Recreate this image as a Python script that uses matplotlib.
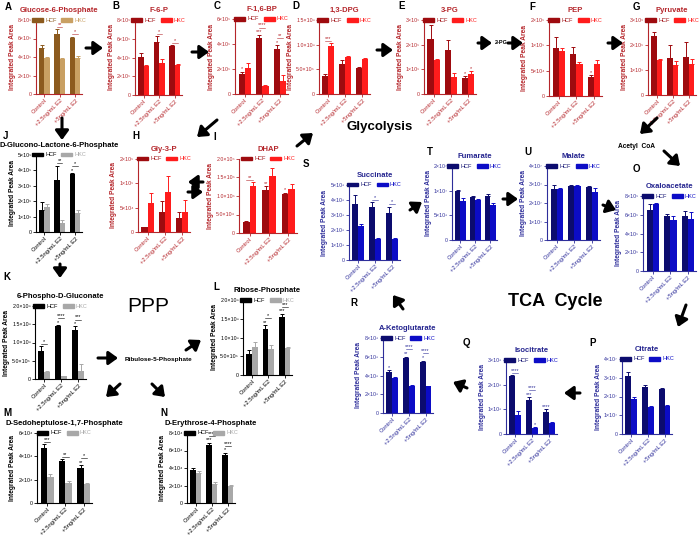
import numpy as np
import matplotlib.pyplot as plt
from matplotlib.patches import Patch

plt.rcParams['font.family'] = ['Liberation Sans', 'DejaVu Sans']

groups = ["Control", "+2.5ng/mL E2", "+5ng/mL E2"]

# ---- glycolysis ----
g6p_hcf, g6p_hcf_err = [5.0, 6.5, 6.05], [0.3, 0.5, 0.15]          # x1e5
g6p_hkc, g6p_hkc_err = [3.9, 3.8, 3.9], [0.15, 0.1, 0.2]
f6p_hcf, f6p_hcf_err = [4.05, 5.65, 5.2], [0.45, 0.6, 0.15]        # x1e5
f6p_hkc, f6p_hkc_err = [3.1, 3.45, 3.2], [0.05, 0.4, 0.15]
fbp_hcf, fbp_hcf_err = [1.6, 4.5, 3.6], [0.2, 0.25, 0.3]           # x1e5
fbp_hkc, fbp_hkc_err = [2.05, 0.65, 1.05], [0.4, 0.1, 0.45]
dpg_hcf, dpg_hcf_err = [0.36, 0.61, 0.53], [0.04, 0.07, 0.02]      # x1e6
dpg_hkc, dpg_hkc_err = [0.97, 0.75, 0.71], [0.06, 0.03, 0.02]
pg3_hcf, pg3_hcf_err = [2.23, 1.78, 0.65], [0.55, 0.42, 0.07]      # x1e5
pg3_hkc, pg3_hkc_err = [1.38, 0.69, 0.81], [0.05, 0.15, 0.12]
pep_hcf, pep_hcf_err = [0.95, 0.83, 0.38], [0.22, 0.14, 0.03]      # x1e5
pep_hkc, pep_hkc_err = [0.89, 0.63, 0.63], [0.05, 0.05, 0.08]
pyr_hcf, pyr_hcf_err = [2.36, 1.47, 1.52], [0.15, 0.52, 0.6]       # x1e5
pyr_hkc, pyr_hkc_err = [1.4, 1.2, 1.24], [0.03, 0.15, 0.2]
g3p_hcf, g3p_hcf_err = [0.1, 0.41, 0.29], [0.01, 0.22, 0.12]       # x1e5
g3p_hkc, g3p_hkc_err = [0.6, 0.82, 0.41], [0.2, 0.33, 0.25]
dhap_hcf, dhap_hcf_err = [0.3, 1.17, 1.06], [0.03, 0.1, 0.03]      # x1e5
dhap_hkc, dhap_hkc_err = [1.27, 1.54, 1.2], [0.1, 0.23, 0.12]

# ---- pentose phosphate pathway ----
glac_hcf, glac_hcf_err = [1.4, 3.4, 3.75], [0.55, 0.9, 0.05]       # x1e5
glac_hkc, glac_hkc_err = [1.65, 0.6, 1.25], [0.15, 0.15, 0.2]
pgl_hcf, pgl_hcf_err = [0.77, 1.45, 1.34], [0.13, 0.02, 0.1]       # x1e6
pgl_hkc, pgl_hkc_err = [0.2, 0.07, 0.22], [0.03, 0.02, 0.2]
rib_hcf, rib_hcf_err = [0.56, 1.23, 1.55], [0.12, 0.1, 0.08]       # x1e6
rib_hkc, rib_hkc_err = [0.75, 0.69, 0.72], [0.12, 0.1, 0.03]
sed_hcf, sed_hcf_err = [4.75, 3.6, 3.0], [0.3, 0.2, 0.25]          # x1e4
sed_hkc, sed_hkc_err = [2.2, 1.7, 1.65], [0.25, 0.2, 0.05]
ery_hcf, ery_hcf_err = [3.8, 6.6, 5.45], [0.2, 0.3, 0.3]           # x1e4
ery_hkc, ery_hkc_err = [3.45, 2.15, 2.0], [0.2, 0.2, 0.05]

# ---- TCA cycle ----
suc_hcf, suc_hcf_err = [3.75, 3.5, 3.15], [0.6, 0.35, 0.4]         # x1e6
suc_hkc, suc_hkc_err = [2.25, 1.4, 1.4], [0.12, 0.05, 0.05]
fum_hcf, fum_hcf_err = [0.99, 0.87, 0.89], [0.02, 0.02, 0.04]      # x1e7
fum_hkc, fum_hkc_err = [0.8, 0.82, 0.71], [0.06, 0.02, 0.03]
mal_hcf, mal_hcf_err = [2.78, 2.92, 2.86], [0.2, 0.05, 0.05]       # x1e7
mal_hkc, mal_hkc_err = [2.73, 2.9, 2.6], [0.1, 0.05, 0.2]
oaa_hcf, oaa_hcf_err = [6.5, 5.9, 5.9], [0.6, 0.15, 0.5]           # x1e5
oaa_hkc, oaa_hkc_err = [7.1, 5.4, 5.6], [0.15, 0.5, 0.7]
akg_hcf, akg_hcf_err = [4.37, 5.87, 5.44], [0.2, 0.15, 0.15]       # x1e6
akg_hkc, akg_hkc_err = [3.73, 2.9, 2.9], [0.1, 0.05, 0.03]
ict_hcf, ict_hcf_err = [2.35, 1.38, 0.9], [0.05, 0.1, 0.1]         # x1e6
ict_hkc, ict_hkc_err = [0.77, 0.24, 0.45], [0.15, 0.04, 0.02]
cit_hcf, cit_hcf_err = [3.1, 2.5, 2.4], [0.2, 0.1, 0.05]           # x1e7
cit_hkc, cit_hkc_err = [1.87, 1.44, 1.48], [0.1, 0.05, 0.05]

G6P = dict(axis="#B5262B", hcf="#8C5A1E", hkc="#C9A063", title="#B5262B")
GLY = dict(axis="#B5262B", hcf="#9E0B0F", hkc="#FF1C1C", title="#B5262B")
PPP = dict(axis="#000000", hcf="#000000", hkc="#A8A8A8", title="#000000")
TCA = dict(axis="#2E2E9A", hcf="#0C0C6E", hkc="#0C0CC6", title="#24248F")

W, H = 700, 536
fig = plt.figure(figsize=(7, 5.36), dpi=100)

SUP = str.maketrans("0123456789-", "⁰¹²³⁴⁵⁶⁷⁸⁹⁻")


def sci(v, dec):
    if v == 0:
        return "0"
    e = int(np.floor(np.log10(v) + 1e-9))
    m = v / 10 ** e
    return f"{m:.{dec}f}×10" + str(e).translate(SUP)


def panel(rect, title, hcf, hcf_err, hkc, hkc_err, ymax, step, scale, dec, sch,
          pair=("", "", ""), hcf_st=("", "", ""), hkc_st=("", "", "")):
    l, t, r, b = rect
    ax = fig.add_axes([l / W, 1 - b / H, (r - l) / W, (b - t) / H])
    ax.set_facecolor("none")
    x = np.arange(3)
    w = 0.35
    ekw = dict(elinewidth=0.7, capsize=1.2, capthick=0.7)
    ax.bar(x - w / 2, hcf, w, color=sch["hcf"], yerr=[np.zeros(3), hcf_err],
           error_kw=dict(ecolor=sch["hcf"], **ekw))
    ax.bar(x + w / 2, hkc, w, color=sch["hkc"], yerr=[np.zeros(3), hkc_err],
           error_kw=dict(ecolor=sch["hkc"], **ekw))
    ax.set_xlim(-0.55, 2.45)
    ax.set_ylim(0, ymax)
    ticks = np.arange(0, ymax + step / 2, step)
    ax.set_yticks(ticks)
    ax.set_yticklabels([sci(v * scale, dec) for v in ticks])
    ax.set_xticks(x)
    ax.set_xticklabels(groups, rotation=45, ha="right", rotation_mode="anchor")
    for s in ["top", "right"]:
        ax.spines[s].set_visible(False)
    for s in ["left", "bottom"]:
        ax.spines[s].set_color(sch["axis"])
        ax.spines[s].set_linewidth(0.8)
    ax.tick_params(colors=sch["axis"], labelsize=3.8, length=2, width=0.6, pad=1)
    ax.tick_params(axis="x", labelsize=4.2)
    ax.set_ylabel("Integrated Peak Area", fontsize=4.8, fontweight="bold",
                  color=sch["axis"], labelpad=1.5)
    ax.set_title(title, fontsize=5.5, fontweight="bold", color=sch["title"], pad=6)
    leg = ax.legend([Patch(color=sch["hcf"]), Patch(color=sch["hkc"])], ["HCF", "HKC"],
                    loc="center", bbox_to_anchor=(0.5, 1.0), ncol=2, fontsize=4,
                    frameon=False, handlelength=2.0, handleheight=0.7,
                    columnspacing=0.8, handletextpad=0.4, borderpad=0)
    leg.get_texts()[0].set_color(sch["hcf"])
    leg.get_texts()[1].set_color(sch["hkc"])
    # significance marks
    for i in range(3):
        top1 = hcf[i] + hcf_err[i]
        top2 = hkc[i] + hkc_err[i]
        if hcf_st[i]:
            ax.text(i - w / 2, top1 + 0.005 * ymax, hcf_st[i], ha="center", va="bottom",
                    fontsize=4, color=sch["axis"], clip_on=False)
            top1 += 0.065 * ymax
        if hkc_st[i]:
            ax.text(i + w / 2, top2 + 0.005 * ymax, hkc_st[i], ha="center", va="bottom",
                    fontsize=4, color=sch["axis"], clip_on=False)
            top2 += 0.065 * ymax
        if pair[i]:
            yl = max(top1, top2) + 0.03 * ymax
            ax.plot([i - w / 2, i + w / 2], [yl, yl], color=sch["axis"], lw=0.4,
                    clip_on=False)
            ax.text(i, yl, pair[i], ha="center", va="bottom", fontsize=4,
                    color=sch["axis"], clip_on=False)
    return ax


# glycolysis row
panel((36, 20, 82, 94), "Glucose-6-Phosphate", g6p_hcf, g6p_hcf_err, g6p_hkc, g6p_hkc_err,
      8, 2, 1e5, 0, G6P, pair=("", "**", "*"))
panel((135, 20, 182, 95), "F-6-P", f6p_hcf, f6p_hcf_err, f6p_hkc, f6p_hkc_err,
      8, 2, 1e5, 0, GLY, pair=("", "*", "*"))
panel((235, 19, 288, 94), "F-1,6-BP", fbp_hcf, fbp_hcf_err, fbp_hkc, fbp_hkc_err,
      6, 2, 1e5, 0, GLY, pair=("", "****", "**"), hcf_st=("*", "***", "*"))
panel((319, 20, 370, 94), "1,3-DPG", dpg_hcf, dpg_hcf_err, dpg_hkc, dpg_hkc_err,
      1.5, 0.5, 1e6, 1, GLY, pair=("***", "", ""))
panel((424, 20, 476, 94), "3-PG", pg3_hcf, pg3_hcf_err, pg3_hkc, pg3_hkc_err,
      3, 1, 1e5, 0, GLY, hcf_st=("", "", "*"), hkc_st=("", "", "*"))
panel((549, 20, 602, 96), "PEP", pep_hcf, pep_hcf_err, pep_hkc, pep_hkc_err,
      1.5, 0.5, 1e5, 0, GLY, hcf_st=("", "", "*"))
panel((648, 20, 696, 95), "Pyruvate", pyr_hcf, pyr_hcf_err, pyr_hkc, pyr_hkc_err,
      3, 1, 1e5, 0, GLY)
panel((138, 159, 190, 232), "Gly-3-P", g3p_hcf, g3p_hcf_err, g3p_hkc, g3p_hkc_err,
      1.5, 0.5, 1e5, 0, GLY)
panel((239, 159, 297, 233), "DHAP", dhap_hcf, dhap_hcf_err, dhap_hkc, dhap_hkc_err,
      2, 0.5, 1e5, 1, GLY, pair=("**", "", ""), hcf_st=("", "**", "*"))

# PPP
panel((36, 155, 82, 232), "D-Glucono-Lactone-6-Phosphate", glac_hcf, glac_hcf_err,
      glac_hkc, glac_hkc_err, 5, 1, 1e5, 0, PPP, pair=("", "**", "*"), hcf_st=("", "", "*"))
panel((35, 306, 86, 379), "6-Phospho-D-Gluconate", pgl_hcf, pgl_hcf_err, pgl_hkc,
      pgl_hkc_err, 2, 0.5, 1e6, 1, PPP, pair=("*", "****", "***"), hcf_st=("", "*", "*"))
panel((243, 300, 292, 375), "Ribose-Phosphate", rib_hcf, rib_hcf_err, rib_hkc, rib_hkc_err,
      2, 0.5, 1e6, 1, PPP, pair=("", "*", "***"), hcf_st=("", "**", "***"))
panel((37, 433, 92, 503), "D-Sedoheptulose-1,7-Phosphate", sed_hcf, sed_hcf_err, sed_hkc,
      sed_hkc_err, 6, 2, 1e4, 0, PPP, pair=("***", "**", "*"), hcf_st=("", "", "**"))
panel((187, 433, 235, 503), "D-Erythrose-4-Phosphate", ery_hcf, ery_hcf_err, ery_hkc,
      ery_hkc_err, 8, 2, 1e4, 0, PPP, pair=("", "****", "****"), hcf_st=("", "***", "*"))

# TCA
panel((349, 185, 400, 260), "Succinate", suc_hcf, suc_hcf_err, suc_hkc, suc_hkc_err,
      5, 1, 1e6, 0, TCA, pair=("", "*", "*"))
panel((452, 166, 497, 240), "Fumarate", fum_hcf, fum_hcf_err, fum_hkc, fum_hkc_err,
      1.5, 0.5, 1e7, 0, TCA)
panel((547, 166, 600, 240), "Malate", mal_hcf, mal_hcf_err, mal_hkc, mal_hkc_err,
      4, 1, 1e7, 0, TCA)
panel((643, 196, 696, 271), "Oxaloacetate", oaa_hcf, oaa_hcf_err, oaa_hkc, oaa_hkc_err,
      8, 2, 1e5, 0, TCA)
panel((383, 338, 433, 413), "A-Ketoglutarate", akg_hcf, akg_hcf_err, akg_hkc, akg_hkc_err,
      8, 2, 1e6, 0, TCA, pair=("", "****", "****"), hcf_st=("*", "**", "*"))
panel((506, 360, 557, 434), "Isocitrate", ict_hcf, ict_hcf_err, ict_hkc, ict_hkc_err,
      3, 1, 1e6, 0, TCA, pair=("****", "****", ""), hcf_st=("", "***", "****"),
      hkc_st=("", "*", ""))
panel((622, 359, 672, 434), "Citrate", cit_hcf, cit_hcf_err, cit_hkc, cit_hkc_err,
      4, 1, 1e7, 0, TCA)

# overlay for letters, labels and pathway arrows (pixel coordinates)
ov = fig.add_axes([0, 0, 1, 1], zorder=10)
ov.set_xlim(0, W)
ov.set_ylim(H, 0)
ov.axis("off")

letters = {"A": (5, 7), "B": (112, 6), "C": (214, 6), "D": (292, 6), "E": (398, 6),
           "F": (529, 7), "G": (633, 7), "J": (3, 136), "H": (132, 136), "I": (213, 137),
           "S": (303, 164), "T": (427, 152), "U": (524, 152), "O": (633, 169),
           "K": (3, 277), "L": (213, 287), "R": (350, 303), "Q": (463, 343),
           "P": (589, 343), "M": (3, 413), "N": (160, 413)}
for k, (lx, ly) in letters.items():
    ov.text(lx, ly, k, fontsize=7, fontweight="bold", ha="left", va="center")

ov.text(380, 127, "Glycolysis", fontsize=9.5, fontweight="bold", ha="center", va="center")
ov.text(148, 307, "PPP", fontsize=15, ha="center", va="center")
ov.text(555, 302, "TCA  Cycle", fontsize=13, fontweight="bold", ha="center", va="center")
ov.text(158, 360, "Ribulose-5-Phosphate", fontsize=4.6, fontweight="bold",
        ha="center", va="center")
ov.text(501, 43, "2-PG", fontsize=4, fontweight="bold", ha="center", va="center")
ov.text(636, 146, "Acetyl  CoA", fontsize=4.8, fontweight="bold", ha="center", va="center")

arrows = [((86, 48), (103, 48)), ((192, 52), (209, 52)), ((377, 50), (393, 50)),
          ((478, 43), (492, 43)), ((508, 43), (523, 43)), ((608, 43), (623, 43)),
          ((657, 118), (640, 134)), ((664, 151), (680, 166)),
          ((62, 118), (62, 140)), ((217, 120), (197, 137)),
          ((203, 182), (188, 182)), ((188, 192), (203, 192)), ((297, 146), (313, 133)),
          ((410, 210), (422, 202)), ((503, 199), (518, 199)), ((603, 205), (616, 210)),
          ((686, 305), (678, 327)), ((580, 393), (564, 393)), ((467, 388), (453, 382)),
          ((403, 309), (393, 295)), ((60, 264), (60, 278)), ((98, 358), (118, 358)),
          ((186, 350), (201, 340)), ((120, 384), (106, 397)), ((152, 384), (165, 397))]
for s, e in arrows:
    ov.annotate("", xy=e, xytext=s,
                arrowprops=dict(arrowstyle="-|>,head_length=0.55,head_width=0.4",
                                lw=2.2, color="k", mutation_scale=10,
                                shrinkA=0, shrinkB=0))

fig.savefig("out.png", dpi=100)
plt.close(fig)
